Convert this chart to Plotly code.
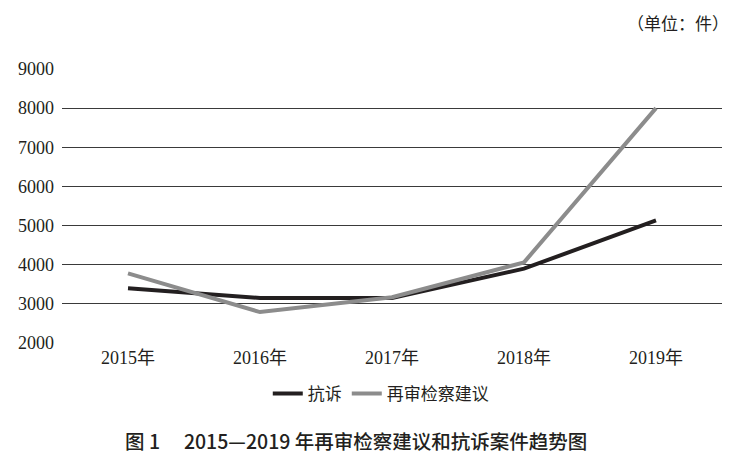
import plotly.graph_objects as go

years = ["2015年", "2016年", "2017年", "2018年", "2019年"]
kangsu = [3400, 3150, 3150, 3900, 5130]
zaishen = [3780, 2790, 3170, 4060, 8000]
y_ticks = [2000, 3000, 4000, 5000, 6000, 7000, 8000, 9000]

fig = go.Figure()
fig.add_trace(go.Scatter(x=years, y=kangsu, mode="lines", name="抗诉",
                         line=dict(color="#231f20", width=4)))
fig.add_trace(go.Scatter(x=years, y=zaishen, mode="lines", name="再审检察建议",
                         line=dict(color="#8c8c8c", width=4)))

fig.update_layout(
    width=735, height=464,
    margin=dict(l=54, r=21, t=61, b=129, autoexpand=False),
    paper_bgcolor="white", plot_bgcolor="white",
    font=dict(family="Liberation Serif, Noto Sans CJK SC", size=18, color="#231f20"),
    showlegend=True,
    legend=dict(orientation="h", x=0.483, xanchor="center", y=-0.186, yanchor="middle",
                font=dict(family="Noto Sans CJK SC", size=17), itemwidth=30,
                traceorder="normal"),
    xaxis=dict(type="category", range=[-0.5, 4.5], showgrid=False, showline=False,
               zeroline=False, ticks="", ticklabelstandoff=2,
               tickfont=dict(family="Liberation Serif, Noto Sans CJK SC", size=18)),
    yaxis=dict(range=[2000, 9000], tickvals=y_ticks, showgrid=True,
               gridcolor="#3a3a3a", gridwidth=1, zeroline=False, showline=False,
               ticks="", ticklabelstandoff=7,
               tickfont=dict(family="Liberation Serif", size=18)),
    annotations=[
        dict(text="（单位：件）", xref="paper", yref="paper", x=1.0, y=1.0,
             xanchor="right", yanchor="middle", yshift=47, xshift=9, showarrow=False,
             font=dict(family="Noto Sans CJK SC", size=17, color="#231f20")),
        dict(text="图 1　 2015—2019 年再审检察建议和抗诉案件趋势图",
             xref="paper", yref="paper", x=0.445, y=0, xanchor="center", yanchor="middle",
             yshift=-97, showarrow=False,
             font=dict(family="Noto Sans CJK SC", size=19.5, weight=500, color="#231f20")),
    ],
)

fig.write_html("out.html")
